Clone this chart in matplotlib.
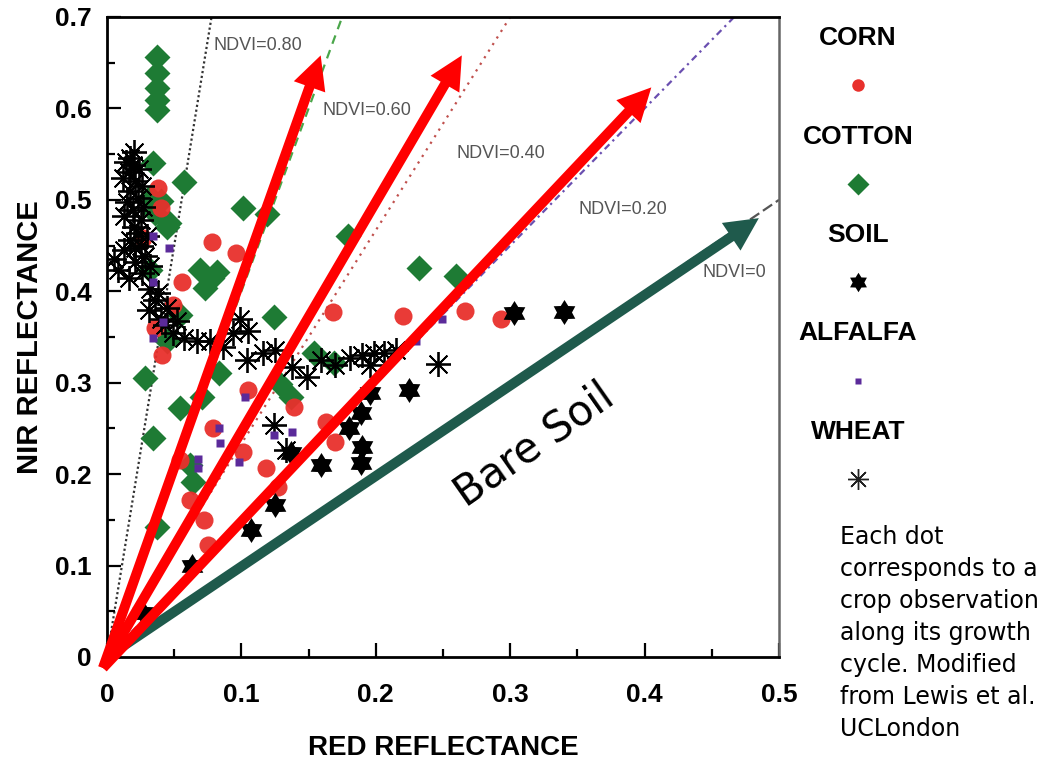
import matplotlib
matplotlib.use("Agg")
import numpy as np
import matplotlib.pyplot as plt
from matplotlib.ticker import MultipleLocator

plt.rcParams['font.family'] = ['Liberation Sans', 'DejaVu Sans']

# reflectance readings (red, nir) per crop
corn_red = [0.038, 0.040, 0.027, 0.078, 0.096, 0.056, 0.168, 0.220, 0.266, 0.293,
            0.041, 0.036, 0.049, 0.105, 0.079, 0.139, 0.163, 0.170, 0.101, 0.118,
            0.127, 0.062, 0.072, 0.075, 0.054]
corn_nir = [0.513, 0.491, 0.458, 0.454, 0.442, 0.410, 0.377, 0.373, 0.378, 0.370,
            0.330, 0.360, 0.385, 0.292, 0.251, 0.273, 0.257, 0.235, 0.224, 0.207,
            0.186, 0.172, 0.150, 0.122, 0.215]

cotton_red = [0.037, 0.037, 0.037, 0.037, 0.037, 0.034, 0.057, 0.101, 0.119, 0.179,
              0.069, 0.078, 0.073, 0.082, 0.124, 0.045, 0.040, 0.054, 0.045, 0.154,
              0.169, 0.232, 0.260, 0.028, 0.054, 0.034, 0.071, 0.083, 0.062, 0.064,
              0.037, 0.129, 0.137, 0.032, 0.036, 0.046, 0.032]
cotton_nir = [0.656, 0.639, 0.622, 0.609, 0.598, 0.540, 0.519, 0.491, 0.485, 0.461,
              0.423, 0.414, 0.404, 0.421, 0.372, 0.470, 0.499, 0.374, 0.346, 0.332,
              0.322, 0.426, 0.417, 0.305, 0.272, 0.239, 0.284, 0.311, 0.210, 0.191,
              0.142, 0.299, 0.284, 0.503, 0.486, 0.475, 0.423]

soil_red = [0.303, 0.340, 0.225, 0.196, 0.189, 0.180, 0.190, 0.189, 0.159, 0.137,
            0.125, 0.107, 0.063, 0.027]
soil_nir = [0.376, 0.377, 0.292, 0.289, 0.267, 0.250, 0.230, 0.212, 0.210, 0.223,
            0.166, 0.139, 0.099, 0.048]

alfalfa_red = [0.034, 0.046, 0.034, 0.042, 0.034, 0.103, 0.083, 0.084, 0.068, 0.068,
               0.098, 0.124, 0.138, 0.249, 0.230]
alfalfa_nir = [0.461, 0.447, 0.410, 0.366, 0.349, 0.284, 0.250, 0.234, 0.217, 0.207,
               0.213, 0.243, 0.246, 0.370, 0.346]

wheat_red = [0.017, 0.019, 0.016, 0.021, 0.017, 0.023, 0.019, 0.025, 0.023, 0.017,
             0.025, 0.013, 0.028, 0.021, 0.008, 0.016, 0.032, 0.036, 0.031, 0.040,
             0.043, 0.049, 0.057, 0.067, 0.077, 0.086, 0.094, 0.099, 0.105, 0.104,
             0.116, 0.125, 0.138, 0.149, 0.159, 0.170, 0.181, 0.190, 0.199, 0.206,
             0.196, 0.215, 0.246, 0.124, 0.133,
             0.020, 0.014, 0.024, 0.012, 0.026, 0.015, 0.027, 0.013, 0.020, 0.030,
             0.021, 0.032, 0.026, 0.038, 0.045, 0.052, 0.005]
wheat_nir = [0.546, 0.538, 0.530, 0.521, 0.510, 0.502, 0.489, 0.478, 0.464, 0.456,
             0.450, 0.445, 0.439, 0.432, 0.423, 0.414, 0.403, 0.390, 0.379, 0.370,
             0.363, 0.354, 0.349, 0.346, 0.346, 0.339, 0.354, 0.370, 0.357, 0.325,
             0.333, 0.336, 0.317, 0.306, 0.325, 0.319, 0.327, 0.330, 0.333, 0.333,
             0.319, 0.336, 0.321, 0.254, 0.226,
             0.552, 0.541, 0.534, 0.524, 0.515, 0.498, 0.492, 0.482, 0.470, 0.460,
             0.447, 0.428, 0.420, 0.398, 0.382, 0.368, 0.435]

# iso-NDVI lines and their label anchors
ndvi_values = [0.8, 0.6, 0.4, 0.2, 0.0]
ndvi_labels = ['NDVI=0.80', 'NDVI=0.60', 'NDVI=0.40', 'NDVI=0.20', 'NDVI=0']
ndvi_label_x = [0.079, 0.160, 0.260, 0.351, 0.443]
ndvi_label_y = [0.669, 0.598, 0.551, 0.489, 0.421]
ndvi_colors = ['#333333', '#4aa64a', '#c0504d', '#6a4fb0', '#555555']
ndvi_styles = [(0, (1, 1.2)), (0, (4, 3)), (0, (1, 2.5)), (0, (3, 2, 1, 2)), (0, (5, 2))]

# overlay arrows (tail at origin)
arrow_tail = (-0.003, -0.012)
red_arrow_tips = [(0.159, 0.658), (0.264, 0.658), (0.405, 0.623)]
soil_arrow_tip = (0.485, 0.480)

legend_names = ['CORN', 'COTTON', 'SOIL', 'ALFALFA', 'WHEAT']

# six-pointed star (hexagram) used for the soil symbol
ang = np.deg2rad(90 + 30 * np.arange(12))
rad = np.where(np.arange(12) % 2 == 0, 1.0, 0.6)
hexagram = np.column_stack([rad * np.cos(ang), rad * np.sin(ang)])

fig = plt.figure(figsize=(10.64, 7.66), dpi=100)
ax = fig.add_axes([107 / 1064, 1 - 657 / 766, 672 / 1064, 640 / 766])

for nd, col, ls in zip(ndvi_values, ndvi_colors, ndvi_styles):
    slope = (1 + nd) / (1 - nd)
    xr = [0, 0.5]
    ax.plot(xr, [v * slope for v in xr], color=col, ls=ls, lw=1.6, zorder=1)
for lab, lx, ly in zip(ndvi_labels, ndvi_label_x, ndvi_label_y):
    ax.text(lx, ly, lab, color='#555555', fontsize=13, ha='left', va='center', zorder=2)

ax.plot(cotton_red, cotton_nir, ls='none', marker='D', ms=13.5, color='#1e7b34',
        mec='none', zorder=3)
ax.plot(corn_red, corn_nir, ls='none', marker='o', ms=13, color='#e8302c',
        mec='none', alpha=0.95, zorder=3)
ax.plot(wheat_red, wheat_nir, ls='none', marker=(8, 2, 0), ms=18, mew=1.3,
        color='black', zorder=3)
ax.plot(soil_red, soil_nir, ls='none', marker=hexagram, ms=18, color='black',
        mec='none', zorder=3)
ax.plot(alfalfa_red, alfalfa_nir, ls='none', marker='s', ms=6, color='#5b2a9a',
        mec='none', zorder=3)

simple = 'simple,head_length=2.4,head_width=2.4,tail_width=0.72'
ax.annotate('', xy=soil_arrow_tip, xytext=(0, 0), annotation_clip=False,
            arrowprops=dict(arrowstyle=simple, mutation_scale=10, fc='#1f5a4c',
                            ec='none', shrinkA=0, shrinkB=0), zorder=5)
for tip in red_arrow_tips:
    ax.annotate('', xy=tip, xytext=arrow_tail, annotation_clip=False,
                arrowprops=dict(arrowstyle=simple, mutation_scale=10, fc='#ff0000',
                                ec='none', shrinkA=0, shrinkB=0), zorder=6)

ax.text(0.318, 0.232, 'Bare Soil', rotation=35, rotation_mode='anchor',
        ha='center', va='center', fontsize=30, family='DejaVu Sans', zorder=6)

ax.set_xlim(0, 0.5)
ax.set_ylim(0, 0.7)
ax.xaxis.set_major_locator(MultipleLocator(0.1))
ax.yaxis.set_major_locator(MultipleLocator(0.1))
ax.xaxis.set_minor_locator(MultipleLocator(0.05))
ax.yaxis.set_minor_locator(MultipleLocator(0.05))
ax.xaxis.set_major_formatter(lambda v, p: '0' if abs(v) < 1e-9 else f'{v:.1f}')
ax.yaxis.set_major_formatter(lambda v, p: '0' if abs(v) < 1e-9 else f'{v:.1f}')
ax.tick_params(which='both', direction='in', width=1.6, labelsize=19)
ax.tick_params(which='major', length=10)
ax.tick_params(which='minor', length=6)
ax.tick_params(axis='x', pad=19)
ax.tick_params(axis='y', pad=11)
for lab in ax.get_xticklabels() + ax.get_yticklabels():
    lab.set_fontweight('bold')
for side in ['left', 'bottom', 'top']:
    ax.spines[side].set_linewidth(2)
ax.spines['right'].set_linewidth(1.8)
ax.spines['right'].set_color('#666666')

ax.set_xlabel('RED REFLECTANCE', fontsize=20, fontweight='bold', va='center')
ax.xaxis.set_label_coords(0.5, (657 - 748) / 640)
ax.set_ylabel('NIR REFLECTANCE', fontsize=21, fontweight='bold', va='center')
ax.yaxis.set_label_coords((30 - 107) / 672, 0.5)

# legend panel on the right: names above their symbols
lax = fig.add_axes([0, 0, 1, 1], zorder=-1)
lax.set_xlim(0, 1064)
lax.set_ylim(766, 0)
lax.axis('off')
legend_styles = [
    dict(marker='o', ms=9, color='#e8302c', mec='none'),
    dict(marker='D', ms=11, color='#1e7b34', mec='none'),
    dict(marker=hexagram, ms=14, color='black', mec='none'),
    dict(marker='s', ms=5, color='#5b2a9a', mec='none'),
    dict(marker=(8, 2, 0), ms=15, mew=1.0, color='#222222'),
]
for i, (name, st) in enumerate(zip(legend_names, legend_styles)):
    yy = 38 + i * 98.5
    lax.text(858, yy, name, fontsize=19, fontweight='bold', ha='center', va='center')
    lax.plot([858], [yy + 47], ls='none', **st)

fig.text(840 / 1064, 1 - 525 / 766,
         'Each dot\ncorresponds to a\ncrop observation\nalong its growth\n'
         'cycle. Modified\nfrom Lewis et al.\nUCLondon',
         fontsize=17, family='DejaVu Sans', ha='left', va='top', linespacing=1.42)

fig.savefig('out.png', dpi=100)
